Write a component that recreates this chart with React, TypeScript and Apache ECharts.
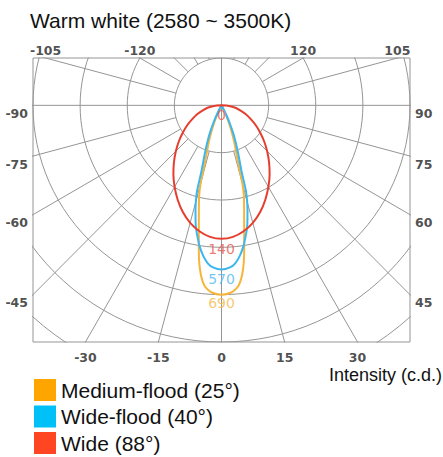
import React, { useEffect, useRef } from "react";
import * as echarts from "echarts";

// ---- data (angle from nadir in degrees, radius in grid-ring units) ----
const seriesNames = ["Medium-flood (25°)", "Wide-flood (40°)", "Wide (88°)"];
const lineColors = ["#F6B53A", "#3CB6EE", "#E63E2E"];
const legendColors = ["#FFA500", "#00C0F8", "#FF4521"];
const labelColors = ["#F5BA4C", "#4CB9EE", "#E9574F"];
const peakLabels = ["690", "570", "140"];
const centerLabel = "0";

const mediumAngles = [0, 3, 5, 6, 7, 8, 9, 10, 11, 12, 13, 14, 15, 15.8, 17, 18.5, 20, 22, 24, 26];
const mediumIntensity = [4.0, 3.96, 3.86, 3.76, 3.6, 3.38, 3.08, 2.77, 2.52, 2.31, 2.13, 1.96, 1.72, 1.38, 1.1, 0.9, 0.72, 0.5, 0.28, 0];

const wideFloodAngles = [0, 3, 5, 7, 9, 10, 11, 12, 13, 14, 15, 16, 17, 19, 21, 23, 25, 27, 29];
const wideFloodIntensity = [3.47, 3.43, 3.35, 3.2, 3.0, 2.87, 2.75, 2.62, 2.45, 2.28, 2.1, 1.88, 1.45, 1.1, 0.85, 0.62, 0.4, 0.2, 0];

const wideAngles = [0, 5, 10, 15, 20, 25, 30, 35, 40, 45, 50, 55, 60, 65, 70, 75, 80, 85, 90];
const wideIntensity = [2.82, 2.79, 2.7, 2.57, 2.4, 2.2, 1.99, 1.78, 1.57, 1.37, 1.18, 1.0, 0.84, 0.68, 0.55, 0.41, 0.3, 0.16, 0];

// ---- axis / grid ticks ----
const ringRadii = [1, 2, 3, 4, 5, 6, 7];
const spokeStep = 15;
const bottomTicks = [-30, -15, 0, 15, 30];
const sideTicks = [45, 60, 75, 90];
const topTicks = [105, 120];

const X_MIN = -4, X_MAX = 4, Y_MIN = -5, Y_MAX = 1;
const deg = Math.PI / 180;

function polar(theta: number, r: number): [number, number] {
  return [r * Math.sin(theta * deg), -r * Math.cos(theta * deg)];
}

function profile(angles: number[], rs: number[]) {
  const pts: [number, number][] = [];
  for (let i = angles.length - 1; i >= 0; i--) pts.push(polar(-angles[i], rs[i]));
  for (let i = 1; i < angles.length; i++) pts.push(polar(angles[i], rs[i]));
  return pts;
}

export default function App() {
  const ref = useRef<HTMLDivElement>(null);
  useEffect(() => {
    if (!ref.current) return;
    const chart = echarts.init(ref.current, null, { renderer: "svg" });

    // polar grid rings
    const ringData: any[] = [];
    ringRadii.forEach((r) => {
      for (let a = 0; a <= 360; a += 3) ringData.push(polar(a, r));
      ringData.push(null);
    });
    // spokes
    const spokeData: any[] = [];
    for (let a = 0; a < 360; a += spokeStep) {
      const start = a % 90 === 0 ? 0 : 1;
      spokeData.push(polar(a, start), polar(a, 9), null);
    }

    const tickFont = { fontFamily: "DejaVu Sans", fontWeight: "bold" as const, fontSize: 12.5, lineHeight: 13, color: "#222" };
    const tickData: any[] = [];
    bottomTicks.forEach((t) => {
      const x = (-Y_MIN) * Math.tan(t * deg);
      tickData.push({ value: [x, Y_MIN], label: { position: "bottom", distance: 9, formatter: String(t) } });
    });
    sideTicks.forEach((t) => {
      const y = -X_MAX / Math.tan(t * deg);
      tickData.push({ value: [X_MAX, y], label: { position: "right", distance: 5, offset: [0, 8], formatter: String(t) } });
      tickData.push({ value: [X_MIN, y], label: { position: "left", distance: 5, offset: [0, 8], formatter: "-" + t } });
    });
    topTicks.forEach((t) => {
      const x = Y_MAX * Math.tan(t * deg) * -1;
      tickData.push({ value: [x, Y_MAX], label: { position: "top", distance: 2, offset: [0, 1], formatter: String(t) } });
      tickData.push({ value: [-x, Y_MAX], label: { position: "top", distance: 2, offset: [0, 1], formatter: "-" + t } });
    });

    const annotation = [
      { value: [0, 0], text: centerLabel, color: labelColors[2], off: 10 },
      { value: [0, -wideIntensity[0]], text: peakLabels[2], color: labelColors[2], off: 10 },
      { value: [0, -wideFloodIntensity[0]], text: peakLabels[1], color: labelColors[1], off: 9 },
      { value: [0, -mediumIntensity[0]], text: peakLabels[0], color: labelColors[0], off: 8.5 },
    ].map((d) => ({
      value: d.value,
      label: { show: true, position: "inside", offset: [0, d.off], formatter: d.text, color: d.color, fontSize: 14, fontFamily: "DejaVu Sans" },
    }));

    const curves = [
      profile(mediumAngles, mediumIntensity),
      profile(wideFloodAngles, wideFloodIntensity),
      profile(wideAngles, wideIntensity),
    ];

    chart.setOption({
      animation: false,
      title: {
        text: "Warm white (2580 ~ 3500K)",
        left: 30,
        top: 10,
        padding: 0,
        textStyle: { fontSize: 21, fontWeight: "normal", color: "#111", fontFamily: "Liberation Sans" },
      },
      legend: {
        orient: "vertical",
        left: 34,
        top: 379,
        padding: 0,
        itemWidth: 22,
        itemHeight: 22,
        itemGap: 4.5,
        selectedMode: false,
        textStyle: { fontSize: 21, color: "#111", fontFamily: "Liberation Sans", padding: [0, 0, 0, 0] },
        data: seriesNames.map((n, i) => ({ name: n, icon: "rect", itemStyle: { color: legendColors[i], borderWidth: 0 } })),
      },
      graphic: [
        {
          type: "text",
          right: 1,
          top: 366,
          style: { text: "Intensity (c.d.)", fontSize: 18, lineHeight: 18, fontFamily: "Liberation Sans", fill: "#111" },
        },
      ],
      grid: { left: 33, right: 33, top: 58, bottom: 115, show: true, borderColor: "#959595", borderWidth: 1, backgroundColor: "transparent" },
      xAxis: { type: "value", min: X_MIN, max: X_MAX, show: false },
      yAxis: { type: "value", min: Y_MIN, max: Y_MAX, show: false },
      series: [
        { type: "line", data: ringData, showSymbol: false, symbol: "none", connectNulls: false, lineStyle: { color: "#959595", width: 1 }, silent: true, clip: true, z: 1 },
        { type: "line", data: spokeData, showSymbol: false, symbol: "none", connectNulls: false, lineStyle: { color: "#959595", width: 1 }, silent: true, clip: true, z: 1 },
        ...curves.map((c, i) => ({
          type: "line",
          name: seriesNames[i],
          data: c,
          symbol: "none",
          smooth: 0.3,
          clip: true,
          lineStyle: { color: lineColors[i], width: 2 },
          itemStyle: { color: legendColors[i] },
          z: 3 + i,
        })),
        {
          type: "scatter",
          data: tickData,
          symbolSize: 0,
          clip: false,
          silent: true,
          itemStyle: { color: "transparent" },
          label: { show: true, ...tickFont },
          z: 5,
        },
        {
          type: "scatter",
          data: annotation,
          symbolSize: 0,
          clip: false,
          silent: true,
          itemStyle: { color: "transparent" },
          z: 10,
        },
      ],
    });
    return () => chart.dispose();
  }, []);
  return <div ref={ref} style={{ position: "absolute", left: 0, top: 0, width: 443, height: 457 }} />;
}
